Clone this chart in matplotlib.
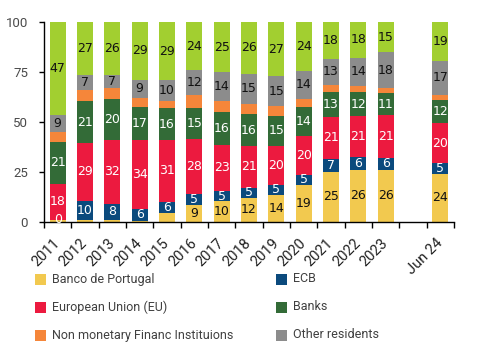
import matplotlib
matplotlib.use("Agg")
import matplotlib.pyplot as plt
from matplotlib.patches import Rectangle
import numpy as np

categories = ["2011", "2012", "2013", "2014", "2015", "2016", "2017", "2018",
              "2019", "2020", "2021", "2022", "2023", "", "Jun 24"]

banco_de_portugal = [1.0, 1.0, 1.0, 0.5, 4.5, 8.6, 10.4, 12.2, 13.6, 18.6, 25.0, 26.0, 26.2, None, 24.0]
ecb = [0.0, 9.6, 8.2, 6.0, 5.7, 5.4, 5.1, 5.0, 4.8, 5.0, 6.6, 6.3, 5.8, None, 5.3]
european_union = [18.2, 28.9, 32.0, 34.3, 31.0, 27.6, 23.0, 20.6, 19.8, 19.6, 21.0, 20.9, 21.3, None, 20.2]
banks = [20.6, 21.0, 20.3, 16.7, 15.6, 15.4, 16.3, 16.4, 14.8, 14.3, 12.6, 11.6, 11.0, None, 11.6]
non_monetary_fi = [5.0, 5.7, 5.5, 4.7, 3.7, 6.4, 5.7, 5.0, 5.0, 4.1, 3.4, 3.4, 2.5, None, 2.5]
other_residents = [8.6, 7.2, 6.6, 9.0, 10.4, 12.4, 14.4, 15.0, 14.8, 14.0, 13.0, 13.9, 18.0, None, 17.0]
non_residents = [46.6, 26.6, 26.4, 28.8, 29.1, 24.2, 25.1, 25.8, 27.2, 24.4, 18.4, 17.9, 15.2, None, 19.4]

series_names = ["Banco de Portugal", "ECB", "European Union (EU)", "Banks",
                "Non monetary Financ Instituions", "Other residents", "Non residents"]
series_values = [banco_de_portugal, ecb, european_union, banks,
                 non_monetary_fi, other_residents, non_residents]
series_colors = ["#F2C94F", "#0B4A7D", "#EC1A3F", "#336B37", "#F5863A", "#8C8C8C", "#A2CF30"]
label_colors = ["#111111", "white", "white", "white", None, "#111111", "#111111"]
label_min = [5, -1, -1, -1, None, -1, -1]

TEXT_FONT = ["Roboto", "Liberation Sans", "DejaVu Sans"]

W, H = 482, 350
fig = plt.figure(figsize=(W / 100, H / 100), dpi=100)
ax = fig.add_axes([44 / W, 1 - 222 / H, 410 / W, 200 / H])

x_all = np.arange(len(categories))
idx = [i for i, c in enumerate(categories) if c]
x = x_all[idx]
bottom = np.zeros(len(idx))
for name, vals, col, lcol, lmin in zip(series_names, series_values, series_colors,
                                       label_colors, label_min):
    v = np.array([vals[i] for i in idx], dtype=float)
    ax.bar(x, v, width=0.585, bottom=bottom, color=col, linewidth=0, zorder=2)
    if lcol is not None:
        for xi, vi, bi in zip(x, v, bottom):
            if vi >= lmin:
                ax.text(xi, bi + vi / 2, f"{round(vi):d}", ha="center", va="center",
                        color=lcol, fontsize=9, family=["DejaVu Sans"], zorder=3)
    bottom = bottom + v

ax.set_xlim(-0.5, len(categories) - 0.5)
ax.set_ylim(0, 100)
ax.set_yticks([0, 25, 50, 75, 100])
ax.tick_params(axis="y", length=3.6, width=1, pad=7.9, labelsize=9.5, labelcolor="#4a4a4a")
for t in ax.get_yticklabels():
    t.set_family(TEXT_FONT)

ax.set_xticks(np.arange(-0.5, len(categories), 1.0))
ax.set_xticklabels([])
ax.tick_params(axis="x", which="major", length=4.3, width=1)
ax.set_xticks(x, minor=True)
ax.set_xticklabels([categories[i] for i in idx], minor=True, rotation=45,
                   ha="right", va="center", rotation_mode="anchor",
                   fontsize=10.5, color="#222222", family=TEXT_FONT)
ax.tick_params(axis="x", which="minor", length=0, pad=13.5)

for s in ["top", "right"]:
    ax.spines[s].set_visible(False)
for s in ["left", "bottom"]:
    ax.spines[s].set_linewidth(1)
    ax.spines[s].set_color("black")

# legend (manual 2-column layout)
legend_order = [0, 1, 2, 3, 4, 5]
col_x = [35, 276]
row_y = [279, 307, 335]
for k, si in enumerate(legend_order):
    r, c = divmod(k, 2)
    x0, yc = col_x[c], row_y[r]
    fig.add_artist(Rectangle((x0 / W, 1 - (yc + 5.5) / H), 11 / W, 11 / H,
                             transform=fig.transFigure, color=series_colors[si], lw=0))
    fig.text((x0 + 17) / W, 1 - yc / H, series_names[si], ha="left", va="center",
             fontsize=9, color="#404040", family=TEXT_FONT)

fig.savefig("out.png", dpi=100)
